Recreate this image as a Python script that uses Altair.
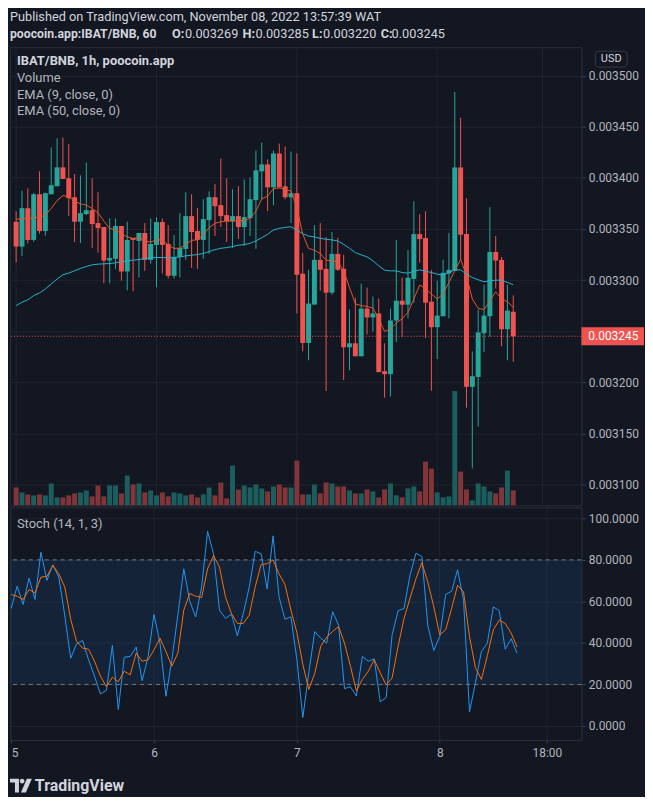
import altair as alt
import pandas as pd

# ---------------- data ----------------
hours = list(range(86))  # hourly bars from Nov 5 00:00 to Nov 8 13:00

opens = [0.0033571, 0.0033328, 0.0033704, 0.0033393, 0.0033840, 0.0033480, 0.0033840, 0.0033918, 0.0034103, 0.0033996,
         0.0033811, 0.0033571, 0.0033646, 0.0033684, 0.0033558, 0.0033519, 0.0033191, 0.0033208, 0.0033529, 0.0033084,
         0.0033412, 0.0033383, 0.0033461, 0.0033198, 0.0033344, 0.0033568, 0.0033354, 0.0033042, 0.0033227, 0.0033305,
         0.0033626, 0.0033480, 0.0033393, 0.0033587, 0.0033811, 0.0033733, 0.0033636, 0.0033577, 0.0033626, 0.0033519,
         0.0033607, 0.0033782, 0.0034064, 0.0034132, 0.0033908, 0.0034239, 0.0033918, 0.0033811, 0.0033850, 0.0033062,
         0.0032384, 0.0032760, 0.0033198, 0.0033110, 0.0032877, 0.0033256, 0.0033110, 0.0032342, 0.0032381, 0.0032254,
         0.0032721, 0.0032634, 0.0032673, 0.0032108, 0.0032079, 0.0032604, 0.0032798, 0.0032759, 0.0033012, 0.0033450,
         0.0033411, 0.0032789, 0.0032539, 0.0032646, 0.0033064, 0.0033090, 0.0034102, 0.0033450, 0.0031955, 0.0032052,
         0.0032480, 0.0032646, 0.0033275, 0.0033197, 0.0032519, 0.0032690]

highs = [0.0033675, 0.0033876, 0.0033898, 0.0033853, 0.0034064, 0.0033856, 0.0034297, 0.0034388, 0.0034395, 0.0034333,
         0.0034038, 0.0034025, 0.0034151, 0.0033996, 0.0033860, 0.0033519, 0.0033603, 0.0033603, 0.0033529, 0.0033571,
         0.0033412, 0.0033461, 0.0033558, 0.0033603, 0.0033616, 0.0033603, 0.0033538, 0.0033441, 0.0033655, 0.0033860,
         0.0033840, 0.0033704, 0.0033791, 0.0033869, 0.0033941, 0.0034190, 0.0033996, 0.0033889, 0.0033918, 0.0033986,
         0.0034005, 0.0034268, 0.0034346, 0.0034181, 0.0034268, 0.0034336, 0.0034307, 0.0034258, 0.0034239, 0.0033266,
         0.0033101, 0.0033538, 0.0033558, 0.0033422, 0.0033470, 0.0033412, 0.0033247, 0.0032712, 0.0032828, 0.0032964,
         0.0032926, 0.0032838, 0.0032819, 0.0032381, 0.0032721, 0.0033392, 0.0033025, 0.0033294, 0.0033771, 0.0033645,
         0.0033674, 0.0033100, 0.0032993, 0.0033200, 0.0033463, 0.0034841, 0.0034588, 0.0033800, 0.0032302, 0.0032711,
         0.0032954, 0.0033713, 0.0033431, 0.0033226, 0.0032954, 0.0032850]

lows = [0.0033172, 0.0033237, 0.0033360, 0.0033376, 0.0033454, 0.0033435, 0.0033840, 0.0033918, 0.0033989, 0.0033626,
        0.0033373, 0.0033363, 0.0033636, 0.0033315, 0.0033269, 0.0032968, 0.0032968, 0.0033107, 0.0032994, 0.0032900,
        0.0032890, 0.0033026, 0.0033091, 0.0033162, 0.0032929, 0.0033065, 0.0033016, 0.0033016, 0.0033026, 0.0033198,
        0.0033120, 0.0033110, 0.0033208, 0.0033256, 0.0033431, 0.0033519, 0.0033373, 0.0033315, 0.0033402, 0.0033334,
        0.0033431, 0.0033305, 0.0033782, 0.0033675, 0.0033733, 0.0033908, 0.0033791, 0.0033558, 0.0032673, 0.0032303,
        0.0032215, 0.0032760, 0.0032896, 0.0031914, 0.0032857, 0.0033091, 0.0032021, 0.0032118, 0.0032254, 0.0032254,
        0.0032468, 0.0032497, 0.0032099, 0.0031849, 0.0031859, 0.0032393, 0.0032442, 0.0032626, 0.0032776, 0.0033171,
        0.0032432, 0.0031916, 0.0032227, 0.0032646, 0.0032626, 0.0033090, 0.0033194, 0.0031751, 0.0031157, 0.0031566,
        0.0032296, 0.0032448, 0.0032918, 0.0032354, 0.0032215, 0.0032200]

closes = [0.0033328, 0.0033704, 0.0033393, 0.0033840, 0.0033480, 0.0033850, 0.0033928, 0.0034103, 0.0033989, 0.0033801,
          0.0033571, 0.0033655, 0.0033684, 0.0033548, 0.0033509, 0.0033191, 0.0033217, 0.0033529, 0.0033084, 0.0033393,
          0.0033393, 0.0033461, 0.0033198, 0.0033354, 0.0033568, 0.0033344, 0.0033042, 0.0033227, 0.0033315, 0.0033626,
          0.0033470, 0.0033393, 0.0033597, 0.0033811, 0.0033723, 0.0033626, 0.0033577, 0.0033626, 0.0033519, 0.0033616,
          0.0033791, 0.0034074, 0.0034132, 0.0033908, 0.0034239, 0.0033908, 0.0033811, 0.0033850, 0.0033052, 0.0032384,
          0.0032770, 0.0033198, 0.0033101, 0.0032877, 0.0033256, 0.0033101, 0.0032342, 0.0032381, 0.0032254, 0.0032721,
          0.0032634, 0.0032673, 0.0032099, 0.0032079, 0.0032605, 0.0032798, 0.0032759, 0.0033022, 0.0033450, 0.0033401,
          0.0032779, 0.0032539, 0.0032652, 0.0033071, 0.0033100, 0.0034102, 0.0033444, 0.0031955, 0.0032059, 0.0032487,
          0.0032652, 0.0033275, 0.0033191, 0.0032519, 0.0032701, 0.0032450]

volumes = [54, 39, 33, 30, 33, 30, 66, 24, 24, 30,
           36, 39, 45, 27, 60, 27, 60, 60, 36, 90,
           63, 66, 39, 45, 30, 39, 27, 39, 36, 30,
           33, 24, 33, 54, 30, 69, 21, 120, 48, 60,
           54, 63, 51, 42, 57, 63, 54, 54, 135, 33,
           33, 63, 36, 69, 66, 57, 57, 45, 36, 36,
           48, 42, 24, 48, 66, 30, 24, 51, 57, 42,
           132, 111, 39, 24, 27, 345, 102, 48, 15, 66,
           57, 42, 36, 54, 105, 45]

ema9 = [0.0033594, 0.0033600, 0.0033603, 0.0033610, 0.0033616, 0.0033636, 0.0033701, 0.0033778, 0.0033827, 0.0033817,
        0.0033772, 0.0033746, 0.0033733, 0.0033701, 0.0033658, 0.0033577, 0.0033506, 0.0033490, 0.0033454, 0.0033422,
        0.0033409, 0.0033415, 0.0033383, 0.0033373, 0.0033393, 0.0033393, 0.0033341, 0.0033311, 0.0033311, 0.0033350,
        0.0033389, 0.0033393, 0.0033441, 0.0033513, 0.0033555, 0.0033571, 0.0033577, 0.0033577, 0.0033577, 0.0033584,
        0.0033603, 0.0033675, 0.0033795, 0.0033821, 0.0033895, 0.0033902, 0.0033889, 0.0033869, 0.0033710, 0.0033450,
        0.0033310, 0.0033292, 0.0033260, 0.0033195, 0.0033188, 0.0033178, 0.0033091, 0.0032929, 0.0032767, 0.0032750,
        0.0032741, 0.0032728, 0.0032621, 0.0032498, 0.0032520, 0.0032581, 0.0032620, 0.0032685, 0.0032815, 0.0032951,
        0.0032918, 0.0032863, 0.0032815, 0.0032863, 0.0032977, 0.0033090, 0.0033204, 0.0033041, 0.0032815, 0.0032724,
        0.0032711, 0.0032798, 0.0032886, 0.0032815, 0.0032789, 0.0032733]

ema50 = [0.0032750, 0.0032783, 0.0032806, 0.0032848, 0.0032874, 0.0032913, 0.0032961, 0.0033010, 0.0033052, 0.0033068,
         0.0033091, 0.0033114, 0.0033133, 0.0033149, 0.0033156, 0.0033159, 0.0033162, 0.0033169, 0.0033178, 0.0033188,
         0.0033195, 0.0033201, 0.0033211, 0.0033217, 0.0033221, 0.0033221, 0.0033217, 0.0033221, 0.0033227, 0.0033237,
         0.0033243, 0.0033250, 0.0033260, 0.0033279, 0.0033298, 0.0033311, 0.0033318, 0.0033328, 0.0033341, 0.0033347,
         0.0033360, 0.0033383, 0.0033415, 0.0033448, 0.0033490, 0.0033506, 0.0033516, 0.0033522, 0.0033490, 0.0033454,
         0.0033431, 0.0033422, 0.0033409, 0.0033399, 0.0033393, 0.0033383, 0.0033350, 0.0033311, 0.0033269, 0.0033247,
         0.0033227, 0.0033188, 0.0033140, 0.0033097, 0.0033090, 0.0033090, 0.0033074, 0.0033067, 0.0033087, 0.0033100,
         0.0033087, 0.0033074, 0.0033058, 0.0033048, 0.0033074, 0.0033100, 0.0033100, 0.0033058, 0.0033025, 0.0033003,
         0.0032983, 0.0032993, 0.0032999, 0.0032999, 0.0032977, 0.0032954]

stoch_k = [56.6, 67.3, 58.5, 71.2, 60.9, 83.7, 70.1, 77.6, 71.7, 53.4,
           32.6, 39.6, 41.2, 31.9, 24.0, 15.4, 17.2, 38.8, 7.9, 33.1,
           33.5, 38.0, 21.8, 33.5, 53.7, 39.9, 14.3, 31.9, 53.4, 75.7,
           60.1, 52.5, 67.0, 93.7, 82.9, 55.8, 51.8, 53.9, 43.4, 54.2,
           67.0, 84.1, 82.9, 66.0, 91.6, 62.2, 51.4, 52.6, 32.0, 4.1,
           25.6, 45.5, 42.3, 39.9, 55.0, 48.6, 18.0, 18.9, 14.4, 33.5,
           31.2, 32.3, 11.6, 13.7, 43.9, 55.5, 56.6, 72.5, 83.2, 81.6,
           48.2, 36.4, 43.1, 63.4, 64.9, 75.2, 60.6, 6.8, 20.8, 35.9,
           39.9, 57.4, 55.5, 37.0, 42.0, 35.1]

stoch_d = [63.3, 62.5, 60.9, 65.7, 64.1, 71.7, 72.0, 77.3, 73.3, 67.0,
           51.4, 40.7, 37.5, 37.0, 31.2, 24.0, 18.9, 23.5, 21.3, 26.4,
           24.6, 35.1, 31.2, 31.9, 36.7, 42.3, 35.9, 28.8, 35.1, 55.8,
           63.8, 62.5, 61.9, 75.7, 82.1, 76.5, 62.2, 54.2, 49.4, 49.4,
           53.4, 67.0, 77.8, 78.1, 80.0, 73.3, 68.1, 55.8, 45.0, 29.6,
           17.6, 25.3, 38.3, 42.8, 45.5, 47.9, 39.9, 28.8, 16.8, 22.4,
           26.4, 31.9, 25.6, 19.7, 23.2, 38.3, 51.8, 61.4, 70.9, 78.6,
           69.3, 57.4, 43.9, 46.3, 56.6, 67.8, 64.6, 43.1, 28.0, 22.4,
           33.9, 46.3, 51.0, 49.4, 44.7, 38.0]

price_ticks = [0.00310, 0.00315, 0.00320, 0.00325, 0.00330, 0.00335, 0.00340, 0.00345, 0.00350]
stoch_ticks = [0, 20, 40, 60, 80, 100]
stoch_bands = [20, 80]
day_hours = [0, 24, 48, 72, 90]
day_labels = ["5", "6", "7", "8", "18:00"]

header_line1 = "Published on TradingView.com, November 08, 2022 13:57:39 WAT"
symbol_text = "poocoin.app:IBAT/BNB, 60"
legend_lines = ["IBAT/BNB, 1h, poocoin.app", "Volume", "EMA (9, close, 0)", "EMA (50, close, 0)"]
stoch_title = "Stoch (14, 1, 3)"
logo_text = "TradingView"

# ---------------- styling ----------------
W, HM, HS = 575, 461, 234
BG = "#131722"
GRID = "#20242f"
TICK = "#3a3e4a"
BORDER = "#2a2e39"
TXT = "#b2b5be"
TXT_HI = "#d1d4dc"
GREEN, RED = "#26a69a", "#ef5350"
VGREEN, VRED = "#1c5e5e", "#813539"
EMA9_C, EMA50_C = "#e3562a", "#27b1cc"
K_C, D_C = "#2196f3", "#ff6d00"
FONT = "Roboto"

df = pd.DataFrame({"h": hours, "o": opens, "hi": highs, "lo": lows, "c": closes,
                   "v": volumes, "e9": ema9, "e50": ema50, "k": stoch_k, "d": stoch_d})
last = pd.DataFrame({"price": [closes[-1]], "label": [f"{closes[-1]:.6f}"]})
one = pd.DataFrame({"z": [0]})
grid_df = pd.DataFrame({"h": day_hours})
band_df = pd.DataFrame({"lo": [stoch_bands[0]], "hi": [stoch_bands[1]]})
lvl_df = pd.DataFrame({"lvl": stoch_bands})

xscale = alt.Scale(domain=[-0.2, 95.8], nice=False, zero=False)
pscale = alt.Scale(domain=[0.0030795, 0.0035279], nice=False, zero=False)
vscale = alt.Scale(domain=[0, 1383], nice=False, zero=True)
sscale = alt.Scale(domain=[-6.7, 105.3], nice=False, zero=False)

# the last-price tag covers the 0.003250 label, as on the reference
price_label_expr = (f"abs(datum.value - {closes[-1]:.6f}) < 0.00001 ? '' : format(datum.value, '.6f')")
price_axis = alt.Axis(orient="right", values=price_ticks, labelExpr=price_label_expr, grid=True, gridColor=GRID,
                      tickColor=TICK, tickSize=4, labelPadding=3, labelColor=TXT, labelFont=FONT,
                      labelFontSize=12, domain=False, title=None, labelFlush=False, labelOverlap=False)
stoch_axis = alt.Axis(orient="right", values=stoch_ticks, format=".4f", grid=True, gridColor=GRID,
                      tickColor=TICK, tickSize=4, labelPadding=3, labelColor=TXT, labelFont=FONT,
                      labelFontSize=12, domain=False, title=None, labelFlush=False, labelOverlap=False)
label_expr = "".join(f"datum.value == {h} ? '{l}' : " for h, l in zip(day_hours, day_labels)) + "''"
x_axis_s = alt.Axis(values=day_hours, labelExpr=label_expr, grid=False, tickColor=TICK, tickSize=3,
                    labelPadding=5, labelColor=TXT, labelFont=FONT, labelFontSize=12, domain=False,
                    title=None, labelFlush=False, labelOverlap=False,
                    labelAlign={"condition": {"test": f"datum.value == {day_hours[0]}", "value": "left"},
                                "value": "center"})

X_m = alt.X("h:Q", scale=xscale, axis=None)
X_s = alt.X("h:Q", scale=xscale, axis=x_axis_s)


def Yp(f):
    return alt.Y(f, scale=pscale, axis=price_axis)


def Ys(f):
    return alt.Y(f, scale=sscale, axis=stoch_axis)


up = alt.datum.c >= alt.datum.o
candle_color = alt.when(up).then(alt.value(GREEN)).otherwise(alt.value(RED))
vol_color = alt.when(up).then(alt.value(VGREEN)).otherwise(alt.value(VRED))


def txt(s, x, y, size=13, weight="normal", color=TXT, align="left"):
    return alt.Chart(one).mark_text(text=s, align=align, baseline="middle", fontSize=size,
                                    fontWeight=weight, color=color, font=FONT).encode(
        x=alt.value(x), y=alt.value(y))


# ---------------- main price pane ----------------
grid_m = alt.Chart(grid_df).mark_rule(color=GRID, strokeWidth=1).encode(x=X_m)
vol = alt.Chart(df).mark_bar(size=5).encode(x=X_m, y=alt.Y("v:Q", scale=vscale, axis=None), color=vol_color)

wick = alt.Chart(df).mark_rule(strokeWidth=1).encode(x=X_m, y=Yp("lo:Q"), y2="hi:Q", color=candle_color)
body = alt.Chart(df).mark_bar(size=5).encode(x=X_m, y=Yp("o:Q"), y2="c:Q", color=candle_color)
e9 = alt.Chart(df).mark_line(color=EMA9_C, strokeWidth=1).encode(x=X_m, y=Yp("e9:Q"))
e50 = alt.Chart(df).mark_line(color=EMA50_C, strokeWidth=1).encode(x=X_m, y=Yp("e50:Q"))
last_rule = alt.Chart(last).mark_rule(color=RED, strokeDash=[1, 2], strokeWidth=1).encode(y=Yp("price:Q"))
last_box = alt.Chart(last).mark_rect(color=RED, yOffset=-9, y2Offset=9).encode(
    x=alt.value(W), x2=alt.value(W + 63), y=Yp("price:Q"), y2="price:Q")
last_txt = alt.Chart(last).mark_text(align="left", baseline="middle", color="white", fontSize=12,
                                     font=FONT).encode(x=alt.value(W + 7), y=Yp("price:Q"), text="label:N")
price = alt.layer(wick, body, e9, e50, last_rule, last_box, last_txt)

usd_box = alt.Chart(one).mark_rect(fill=BG, stroke="#363a45", strokeWidth=1, cornerRadius=3).encode(
    x=alt.value(W + 14), x2=alt.value(W + 46), y=alt.value(4), y2=alt.value(20))
usd_txt = txt("USD", W + 30, 12, size=11, color=TXT_HI, align="center")

legend = [txt(legend_lines[0], 7, 14, size=13, weight="bold", color=TXT_HI)]
for s, yy in zip(legend_lines[1:], [31, 48, 64]):
    legend.append(txt(s, 7, yy, size=13, color=TXT))

header = [txt(header_line1, 0, -30, size=12.8, color=TXT_HI),
          txt(symbol_text, 0, -13, size=12.3, weight="bold", color=TXT_HI)]
ohlc = [("O:", opens[-1], 163, 176), ("H:", highs[-1], 234, 247),
        ("L:", lows[-1], 304, 315), ("C:", closes[-1], 373, 384)]
for lab, val, xl, xv in ohlc:
    header.append(txt(lab, xl, -13, size=12.8, weight="bold", color=TXT_HI))
    header.append(txt(f"{val:.6f}", xv, -13, size=12.8, color=TXT_HI))

main = alt.layer(grid_m, vol, price, usd_box, usd_txt, *legend, *header).resolve_scale(
    y="independent").properties(width=W, height=HM)

# ---------------- stochastic pane ----------------
grid_s = alt.Chart(grid_df).mark_rule(color=GRID, strokeWidth=1).encode(x=X_s)
band = alt.Chart(band_df).mark_rect(color="#2196f3", opacity=0.1).encode(
    x=alt.value(0), x2=alt.value(W), y=Ys("hi:Q"), y2="lo:Q")
lvls = alt.Chart(lvl_df).mark_rule(color="#787b86", strokeDash=[4, 4], strokeWidth=1).encode(y=Ys("lvl:Q"))
kline = alt.Chart(df).mark_line(color=K_C, strokeWidth=1).encode(x=X_s, y=Ys("k:Q"))
dline = alt.Chart(df).mark_line(color=D_C, strokeWidth=1).encode(x=X_s, y=Ys("d:Q"))
st_title = txt(stoch_title, 7, 17, size=13, color=TXT)

logo_path = ("M-11,-7H-2V7H-6V-3H-11Z M-1.2,-4.5a2.4,2.4 0 1,0 4.8,0a2.4,2.4 0 1,0 -4.8,0Z "
             "M6,-7H11L5,7H0Z")
logo_icon = alt.Chart(one).mark_point(shape=logo_path, size=4, filled=True, color=TXT_HI,
                                      strokeWidth=0, opacity=1).encode(x=alt.value(11), y=alt.value(280))
logo = txt(logo_text, 25, 280, size=16, weight="bold", color=TXT_HI)

stoch = alt.layer(grid_s, band, lvls, kline, dline, st_title, logo_icon, logo).properties(width=W, height=HS)

chart = alt.vconcat(main, stoch, spacing=0).properties(
    background=BG, padding={"left": 0, "top": 0, "right": 0, "bottom": 0}
).configure_view(stroke=BORDER, strokeWidth=1)

chart.save("out.html", embed_options={"renderer": "svg", "actions": False})
